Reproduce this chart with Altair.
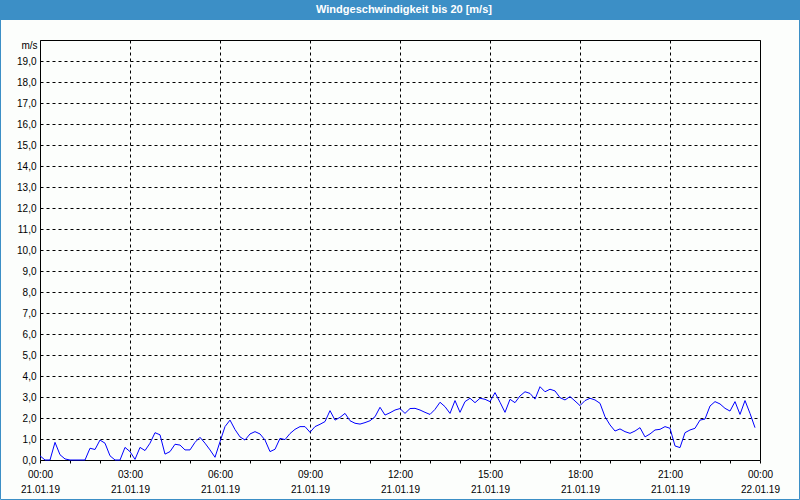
import altair as alt
import pandas as pd

# Wind speed (m/s) every 10 minutes from 00:00 to 23:50 on 21.01.19
wind = [
    0.2, 0.0, 0.0, 0.84, 0.25, 0.05, 0.0, 0.0, 0.0, 0.0,
    0.56, 0.5, 0.95, 0.8, 0.2, 0.0, 0.0, 0.6, 0.4, 0.03,
    0.6, 0.45, 0.8, 1.3, 1.2, 0.28, 0.4, 0.75, 0.71, 0.48,
    0.48, 0.84, 1.08, 0.8, 0.48, 0.13, 0.87, 1.59, 1.9, 1.45,
    1.1, 0.95, 1.24, 1.35, 1.24, 0.95, 0.4, 0.51, 1.03, 0.97,
    1.26, 1.46, 1.59, 1.59, 1.32, 1.59, 1.7, 1.83, 2.35, 1.9,
    2.03, 2.22, 1.87, 1.75, 1.71, 1.78, 1.87, 2.06, 2.51, 2.14,
    2.25, 2.38, 2.45, 2.22, 2.45, 2.46, 2.38, 2.27, 2.17, 2.41,
    2.75, 2.54, 2.22, 2.83, 2.27, 2.78, 2.94, 2.73, 2.94, 2.89,
    2.78, 3.21, 2.75, 2.27, 2.89, 2.73, 3.05, 3.25, 3.17, 2.9,
    3.49, 3.25, 3.37, 3.29, 2.97, 2.86, 3.02, 2.81, 2.59, 2.83,
    2.94, 2.86, 2.7, 2.06, 1.67, 1.38, 1.48, 1.35, 1.27, 1.38,
    1.54, 1.1, 1.24, 1.43, 1.46, 1.59, 1.51, 0.67, 0.59, 1.3,
    1.43, 1.51, 1.9, 1.95, 2.57, 2.78, 2.67, 2.46, 2.33, 2.78,
    2.17, 2.83, 2.22, 1.54,
]
minutes = [10 * i for i in range(len(wind))]

time_labels = ["00:00", "03:00", "06:00", "09:00", "12:00", "15:00", "18:00", "21:00", "00:00"]
date_labels = ["21.01.19", "21.01.19", "21.01.19", "21.01.19", "21.01.19",
               "21.01.19", "21.01.19", "21.01.19", "22.01.19"]
x_ticks = [60 * h for h in range(25)]
y_ticks = list(range(20))

title_text = "Windgeschwindigkeit bis 20 [m/s]"
BLUE = "#3c8fc6"
FONT = "Liberation Sans"

df = pd.DataFrame({"minute": minutes, "wind": wind})

tl = "[" + ",".join(f"'{t}'" for t in time_labels) + "]"
dl = "[" + ",".join(f"'{d}'" for d in date_labels) + "]"
x_label_expr = (
    f"datum.value % 180 === 0 ? [{tl}[datum.value/180], {dl}[datum.value/180]] : ''"
)

line = alt.Chart(df).mark_line(color="#0000ff", strokeWidth=1, interpolate="linear").encode(
    x=alt.X(
        "minute:Q",
        scale=alt.Scale(domain=[0, 1440], nice=False, zero=False),
        axis=alt.Axis(
            values=x_ticks,
            labelExpr=x_label_expr,
            title=None,
            domain=False,
            ticks=True,
            tickSize=3,
            tickColor="black",
            grid=True,
            gridColor="black",
            gridDash=[3, 3],
            gridOpacity=alt.condition("datum.value % 180 === 0", alt.value(1), alt.value(0)),
            labelOverlap=False,
            labelFlush=False,
            labelPadding=6,
            labelBaseline="top",
            labelLineHeight=15,
            labelFont=FONT,
            labelFontSize=10,
            labelColor="black",
        ),
    ),
    y=alt.Y(
        "wind:Q",
        scale=alt.Scale(domain=[0, 20], nice=False),
        axis=alt.Axis(
            values=y_ticks,
            labelExpr="replace(format(datum.value, '.1f'), '.', ',')",
            title="m/s",
            titleAngle=0,
            titleX=-3,
            titleY=5,
            titleAlign="right",
            titleBaseline="middle",
            titleFont=FONT,
            titleFontSize=10,
            titleFontWeight="normal",
            titleColor="black",
            domain=False,
            ticks=False,
            grid=True,
            gridColor="black",
            gridDash=[3, 3],
            labelPadding=4,
            labelFont=FONT,
            labelFontSize=10,
            labelColor="black",
        ),
    ),
)

one = alt.Data(values=[{}])

title_bar = alt.Chart(one).mark_rect(color=BLUE).encode(
    x=alt.value(-40), x2=alt.value(760), y=alt.value(-40), y2=alt.value(-20)
)
title_mark = alt.Chart(one).mark_text(
    text=title_text, color="white", font=FONT, fontSize=11, fontWeight="bold",
    align="center", baseline="middle",
).encode(x=alt.value(364), y=alt.value(-30))
border = alt.Chart(one).mark_rect(fill=None, stroke=BLUE, strokeWidth=1).encode(
    x=alt.value(-39.5), x2=alt.value(759.5), y=alt.value(-39.5), y2=alt.value(459.5)
)

chart = alt.layer(title_bar, line, title_mark, border).properties(
    width=720,
    height=420,
    padding={"left": 40, "top": 40, "right": 40, "bottom": 40},
    autosize=alt.AutoSizeParams(type="none"),
    background="#fcfefc",
).configure_view(stroke="black", strokeWidth=1, fill="#fcfefc")

chart.save("out.html", embed_options={"renderer": "svg", "actions": False})
